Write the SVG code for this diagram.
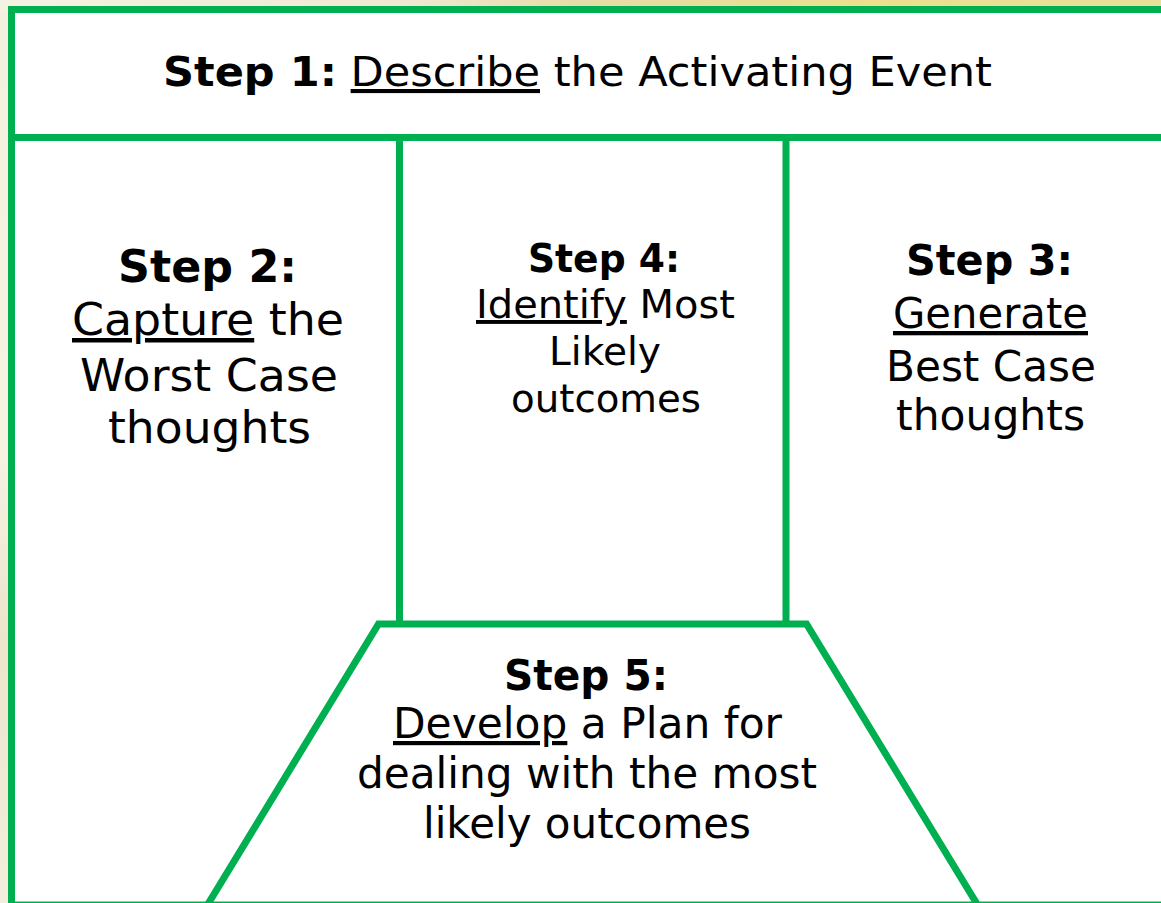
<svg xmlns="http://www.w3.org/2000/svg" width="1161" height="903" viewBox="0 0 1161 903">
  <defs>
    <linearGradient id="bgTop" x1="0" y1="0" x2="1" y2="0">
      <stop offset="0" stop-color="#f6f2e2"/>
      <stop offset="0.35" stop-color="#efe9d2"/>
      <stop offset="0.5" stop-color="#e6dca8"/>
      <stop offset="0.75" stop-color="#ece08e"/>
      <stop offset="1" stop-color="#e8df9c"/>
    </linearGradient>
    <linearGradient id="bgLeft" x1="0" y1="0" x2="0" y2="1">
      <stop offset="0" stop-color="#f4f0df"/>
      <stop offset="0.5" stop-color="#f7f3e2"/>
      <stop offset="0.7" stop-color="#ece4cc"/>
      <stop offset="1" stop-color="#f3eedb"/>
    </linearGradient>
  </defs>
  <style>
    .frame { fill: none; stroke: #00b050; stroke-width: 7; }
    .lbl { font-family: "DejaVu Sans", Verdana, sans-serif; fill: #000; text-anchor: middle; }
    .b { font-weight: bold; }
    .u { text-decoration: underline; }
  </style>
  <rect x="0" y="0" width="1161" height="903" fill="url(#bgLeft)"/>
  <rect x="0" y="0" width="1161" height="12" fill="url(#bgTop)"/>
  <rect x="11.5" y="9.5" width="1160" height="900" fill="#ffffff"/>

  <g id="connectors">
    <rect class="frame" x="11.5" y="9.5" width="1160" height="895.5"/>
    <line class="frame" x1="11.5" y1="137.5" x2="1161" y2="137.5"/>
    <line class="frame" x1="399.5" y1="137.5" x2="399.5" y2="624"/>
    <line class="frame" x1="786" y1="137.5" x2="786" y2="624"/>
    <polyline class="frame" points="208,904 378.5,624 806.5,624 977,904"/>
  </g>

  <g id="step1">
    <text class="lbl" x="577.5" y="86" font-size="41" textLength="829" lengthAdjust="spacingAndGlyphs"><tspan class="b">Step 1:</tspan> <tspan class="u">Describe</tspan> the Activating Event</text>
  </g>

  <g id="step2">
    <text class="lbl b" x="207.5" y="282" font-size="45" textLength="179" lengthAdjust="spacingAndGlyphs">Step 2:</text>
    <text class="lbl" x="208" y="335" font-size="45" textLength="272" lengthAdjust="spacingAndGlyphs"><tspan class="u">Capture</tspan> the</text>
    <text class="lbl" x="209" y="391" font-size="45" textLength="258" lengthAdjust="spacingAndGlyphs">Worst Case</text>
    <text class="lbl" x="209.5" y="443" font-size="45" textLength="203" lengthAdjust="spacingAndGlyphs">thoughts</text>
  </g>

  <g id="step4">
    <text class="lbl b" x="604" y="272" font-size="39" textLength="152" lengthAdjust="spacingAndGlyphs">Step 4:</text>
    <text class="lbl" x="605.5" y="318" font-size="39" textLength="259" lengthAdjust="spacingAndGlyphs"><tspan class="u">Identify</tspan> Most</text>
    <text class="lbl" x="605" y="365" font-size="39" textLength="112" lengthAdjust="spacingAndGlyphs">Likely</text>
    <text class="lbl" x="606" y="412" font-size="39" textLength="190" lengthAdjust="spacingAndGlyphs">outcomes</text>
  </g>

  <g id="step3">
    <text class="lbl b" x="989.5" y="275" font-size="43" textLength="167" lengthAdjust="spacingAndGlyphs">Step 3:</text>
    <text class="lbl" x="990.5" y="328" font-size="43" textLength="195" lengthAdjust="spacingAndGlyphs"><tspan class="u">Generate</tspan></text>
    <text class="lbl" x="991" y="381" font-size="43" textLength="210" lengthAdjust="spacingAndGlyphs">Best Case</text>
    <text class="lbl" x="990.5" y="430" font-size="43" textLength="189" lengthAdjust="spacingAndGlyphs">thoughts</text>
  </g>

  <g id="step5">
    <text class="lbl b" x="586" y="690" font-size="42" textLength="164" lengthAdjust="spacingAndGlyphs">Step 5:</text>
    <text class="lbl" x="587.5" y="738" font-size="42" textLength="389" lengthAdjust="spacingAndGlyphs"><tspan class="u">Develop</tspan> a Plan for</text>
    <text class="lbl" x="587" y="788" font-size="42" textLength="460" lengthAdjust="spacingAndGlyphs">dealing with the most</text>
    <text class="lbl" x="587" y="838" font-size="42" textLength="328" lengthAdjust="spacingAndGlyphs">likely outcomes</text>
  </g>
</svg>
